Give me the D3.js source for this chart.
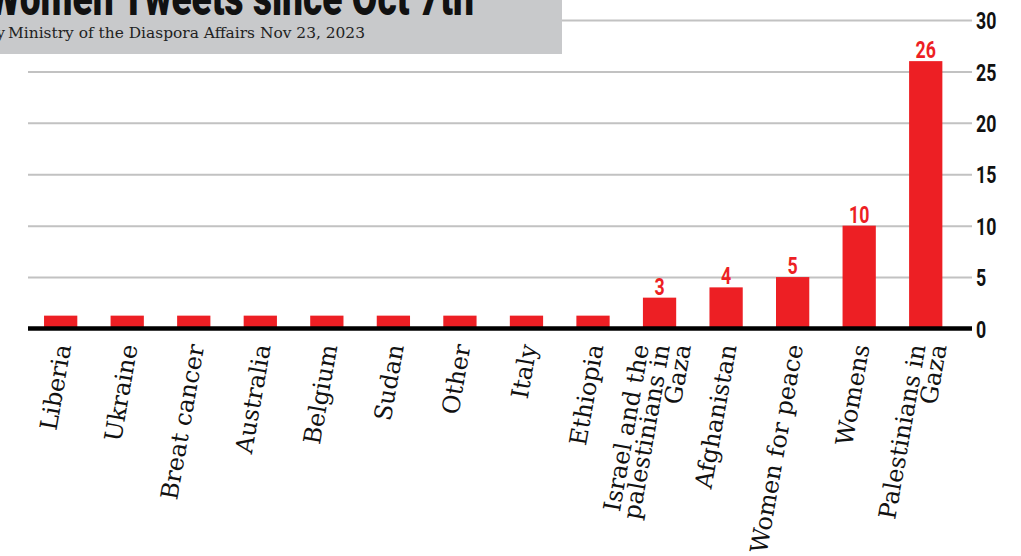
<!DOCTYPE html>
<html>
<head>
<meta charset="utf-8">
<script src="https://cdn.jsdelivr.net/npm/d3@7"></script>
<style>
  html, body { margin: 0; padding: 0; background: #fff; overflow: hidden; }
  svg { display: block; }
</style>
</head>
<body>
<div class="chart"></div>
<script>
// Data
const categories = ['Liberia', 'Ukraine', 'Breat cancer', 'Australia', 'Belgium', 'Sudan', 'Other',
  'Italy', 'Ethiopia', 'Israel and the palestinians in Gaza', 'Afghanistan', 'Women for peace',
  'Womens', 'Palestinians in Gaza'];
// how each category label is broken into lines
const labelLines = [['Liberia'], ['Ukraine'], ['Breat cancer'], ['Australia'], ['Belgium'], ['Sudan'],
  ['Other'], ['Italy'], ['Ethiopia'], ['Israel and the', 'palestinians in', 'Gaza'], ['Afghanistan'],
  ['Women for peace'], ['Womens'], ['Palestinians in', 'Gaza']];
const tweets = [1.25, 1.25, 1.25, 1.25, 1.25, 1.25, 1.25, 1.25, 1.25, 3, 4, 5, 10, 26];
// only these values get a number over the bar
const valueLabels = ['', '', '', '', '', '', '', '', '', '3', '4', '5', '10', '26'];
const yTicks = [0, 5, 10, 15, 20, 25, 30];

const titleText = 'Women Tweets since Oct 7th';
const sourceText = 'Ministry of the Diaspora Affairs Nov 23, 2023';

// Canvas
const svg_width = 1021;
const svg_height = 556;
const red = '#ed1f24';
const condensed = 'Roboto, "Liberation Sans", sans-serif';
const serif = '"DejaVu Serif", "Liberation Serif", serif';

const svg = d3.select('.chart').append('svg')
  .attr('width', svg_width).attr('height', svg_height);

// scales
const xScale = d3.scaleBand().domain(categories)
  .range([27.4, 959]).paddingInner(0.5).paddingOuter(0.25);
const yScale = d3.scaleLinear().domain([0, 30]).range([328.5, 20]);

const gridLeft = 28;
const gridRight = 972;

// gridlines + tick labels (axis on the right)
const yAxis = d3.axisRight(yScale).tickValues(yTicks)
  .tickSize(-(gridRight - gridLeft)).tickPadding(0);
const yAxisDraw = svg.append('g').attr('class', 'y axis')
  .attr('transform', `translate(${gridRight},0)`)
  .call(yAxis);
yAxisDraw.select('.domain').remove();
yAxisDraw.selectAll('.tick line')
  .attr('stroke', '#c2c2c2').attr('stroke-width', 2);
yAxisDraw.selectAll('.tick text')
  .attr('x', 0).attr('dy', '0.36em')
  .attr('transform', 'translate(4,0) scale(0.74,1)')
  .style('font-family', condensed).style('font-weight', 700)
  .style('font-size', '24px').style('fill', '#111');

// bars
svg.selectAll('.bar').data(tweets).enter()
  .append('rect').attr('class', 'bar')
  .attr('x', (d, i) => xScale(categories[i]))
  .attr('y', d => yScale(d))
  .attr('width', xScale.bandwidth())
  .attr('height', d => yScale(0) - yScale(d))
  .style('fill', red);

// zero line on top of the bars
svg.append('line')
  .attr('x1', gridLeft).attr('x2', gridRight)
  .attr('y1', yScale(0)).attr('y2', yScale(0))
  .attr('stroke', '#000').attr('stroke-width', 4.5);

// value labels
svg.selectAll('.value').data(tweets).enter()
  .append('g').attr('class', 'value')
  .attr('transform', (d, i) =>
    `translate(${xScale(categories[i]) + xScale.bandwidth() / 2},${yScale(d) - 3}) scale(0.74,1)`)
  .append('text')
  .attr('text-anchor', 'middle')
  .text((d, i) => valueLabels[i])
  .style('font-family', condensed).style('font-weight', 700)
  .style('font-size', '24px').style('fill', red);

// category labels, tilted, one text per line
const lineGap = 21;
categories.forEach((c, i) => {
  const lines = labelLines[i];
  const cx = xScale(c) + xScale.bandwidth() / 2;
  lines.forEach((t, j) => {
    const lx = cx + 10.5 + (j - (lines.length - 1) / 2) * lineGap;
    svg.append('text')
      .attr('transform', `translate(${lx},346) rotate(-80)`)
      .attr('text-anchor', 'end')
      .text(t)
      .style('font-family', serif).style('font-size', '24px').style('fill', '#111');
  });
});

// header box (cut off at the top-left)
const header = svg.append('g').attr('class', 'header');
header.append('rect')
  .attr('x', 0).attr('y', 0).attr('width', 562).attr('height', 54)
  .style('fill', '#c8c9cb');
header.append('text')
  .attr('x', 474).attr('y', 15)
  .attr('text-anchor', 'end')
  .attr('textLength', 486).attr('lengthAdjust', 'spacingAndGlyphs')
  .text(titleText)
  .style('font-family', condensed).style('font-weight', 900)
  .style('font-size', '50px').style('fill', '#111');
header.append('text')
  .attr('x', 5).attr('y', 38)
  .attr('text-anchor', 'end')
  .text('Data by')
  .style('font-family', serif).style('font-size', '15px').style('fill', '#222');
header.append('text')
  .attr('x', 8).attr('y', 38)
  .attr('textLength', 357).attr('lengthAdjust', 'spacingAndGlyphs')
  .text(sourceText)
  .style('font-family', serif).style('font-size', '15px').style('fill', '#222');
</script>
</body>
</html>
